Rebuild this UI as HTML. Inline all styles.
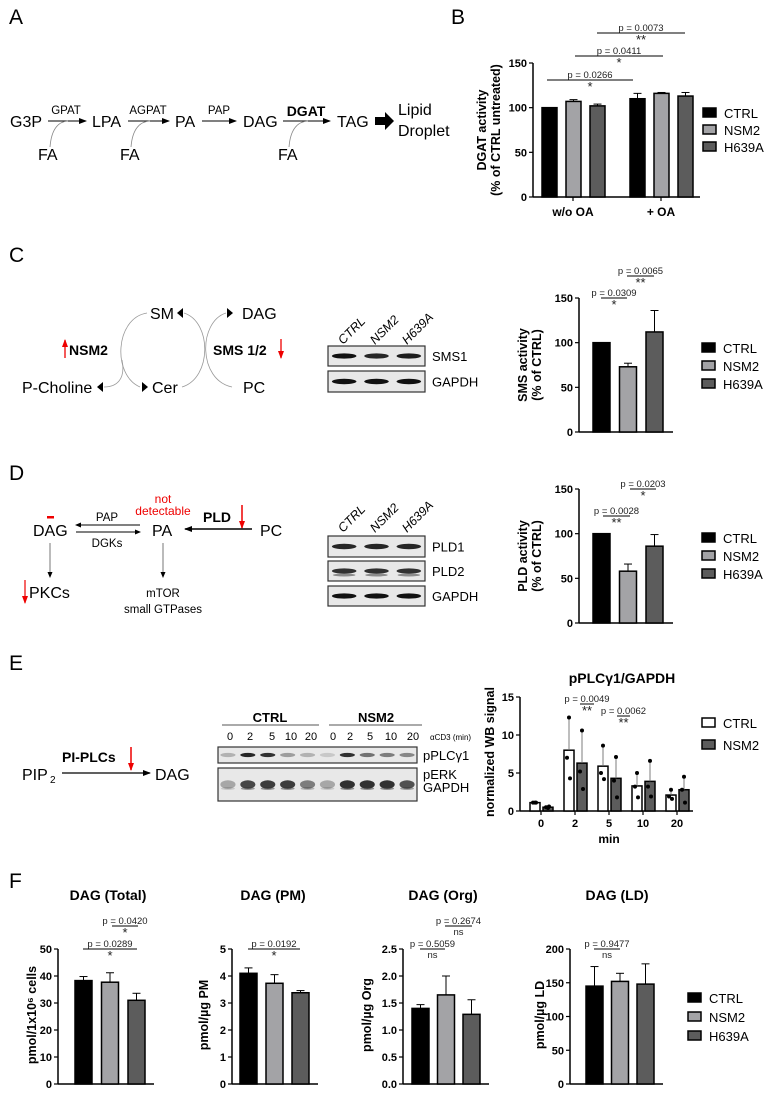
<!DOCTYPE html>
<html><head><meta charset="utf-8">
<style>
html,body{margin:0;padding:0;background:#fff;}
svg{display:block;font-family:"Liberation Sans",sans-serif;}
.tk{font-size:11px;font-weight:bold;text-anchor:end;}
.pv{font-size:9.5px;text-anchor:middle;fill:#222;}
.lg{font-size:13px;}
.ttl{font-size:12px;font-weight:bold;text-anchor:middle;}
.dg{font-size:16px;}
.sm{font-size:11.5px;}
.pl{font-size:21px;}
</style></head>
<body>
<svg id="fig" width="771" height="1096" viewBox="0 0 771 1096" xmlns="http://www.w3.org/2000/svg">
<defs>
<marker id="ah" markerWidth="8" markerHeight="8" refX="7" refY="4" orient="auto" markerUnits="userSpaceOnUse"><path d="M0,1 L8,4 L0,7 Z" fill="#000"/></marker>
<marker id="ahs" markerWidth="6" markerHeight="6" refX="5" refY="3" orient="auto" markerUnits="userSpaceOnUse"><path d="M0,0.5 L6,3 L0,5.5 Z" fill="#000"/></marker>
<marker id="ahr" markerWidth="8" markerHeight="8" refX="7" refY="4" orient="auto" markerUnits="userSpaceOnUse"><path d="M0,1 L8,4 L0,7 Z" fill="#e00"/></marker>
</defs>

<!-- Panel labels -->
<text class="pl" x="9" y="24">A</text>
<text class="pl" x="451" y="24">B</text>
<text class="pl" x="9" y="262">C</text>
<text class="pl" x="9" y="480">D</text>
<text class="pl" x="9" y="670">E</text>
<text class="pl" x="9" y="888">F</text>

<!-- Panel A pathway -->
<g>
<text class="dg" x="10" y="127">G3P</text>
<line x1="48" y1="121" x2="86" y2="121" stroke="#000" stroke-width="1" marker-end="url(#ah)"/>
<text class="sm" x="66" y="114" text-anchor="middle">GPAT</text>
<path d="M50 147 Q52 122 68 121" fill="none" stroke="#888" stroke-width="0.8"/>
<text class="dg" x="38" y="160">FA</text>
<text class="dg" x="92" y="127">LPA</text>
<line x1="128" y1="121" x2="169" y2="121" stroke="#000" stroke-width="1" marker-end="url(#ah)"/>
<text class="sm" x="148" y="114" text-anchor="middle">AGPAT</text>
<path d="M131 147 Q133 122 150 121" fill="none" stroke="#888" stroke-width="0.8"/>
<text class="dg" x="120" y="160">FA</text>
<text class="dg" x="175" y="127">PA</text>
<line x1="202" y1="121" x2="236" y2="121" stroke="#000" stroke-width="1" marker-end="url(#ah)"/>
<text class="sm" x="219" y="114" text-anchor="middle">PAP</text>
<text class="dg" x="243" y="127">DAG</text>
<line x1="283" y1="121" x2="330" y2="121" stroke="#000" stroke-width="1" marker-end="url(#ah)"/>
<text x="306" y="116" text-anchor="middle" style="font-size:14px;font-weight:bold">DGAT</text>
<path d="M289 147 Q291 122 308 121" fill="none" stroke="#888" stroke-width="0.8"/>
<text class="dg" x="278" y="160">FA</text>
<text class="dg" x="337" y="127">TAG</text>
<path d="M375 117 L385 117 L385 112 L394 121 L385 130 L385 125 L375 125 Z" fill="#000"/>
<text class="dg" x="398" y="115">Lipid</text>
<text class="dg" x="398" y="136">Droplet</text>
</g>

<!-- Panel C diagram -->
<g>
<text class="dg" x="150" y="319">SM</text>
<path d="M183 308 L177 313 L183 318 Z" fill="#000"/>
<text class="dg" x="242" y="319">DAG</text>
<path d="M227 308 L233 313 L227 318 Z" fill="#000"/>
<text class="dg" x="22" y="393">P-Choline</text>
<path d="M103 382 L97 387 L103 392 Z" fill="#000"/>
<path d="M142 382 L148 387 L142 392 Z" fill="#000"/>
<text class="dg" x="152" y="393">Cer</text>
<text class="dg" x="243" y="393">PC</text>
<path d="M147 313 C115 318,112 375,140 387" fill="none" stroke="#999" stroke-width="0.8"/>
<path d="M122 360 C126 380,116 387,104 387" fill="none" stroke="#999" stroke-width="0.8"/>
<path d="M182 387 C212 378,212 322,184 313" fill="none" stroke="#999" stroke-width="0.8"/>
<path d="M232 387 C198 380,198 322,226 313" fill="none" stroke="#999" stroke-width="0.8"/>
<line x1="65" y1="358" x2="65" y2="340" stroke="#e00" stroke-width="1.3" marker-end="url(#ahr)"/>
<text x="69" y="355" style="font-size:14px;font-weight:bold">NSM2</text>
<text x="213" y="355" style="font-size:14px;font-weight:bold">SMS 1/2</text>
<line x1="281" y1="339" x2="281" y2="358" stroke="#e00" stroke-width="1.3" marker-end="url(#ahr)"/>
</g>

<!-- Panel D diagram -->
<g>
<text class="dg" x="33" y="536">DAG</text>
<rect x="47" y="516" width="7" height="2.5" fill="#e00"/>
<line x1="140" y1="525" x2="76" y2="525" stroke="#000" stroke-width="1" marker-end="url(#ahs)"/>
<line x1="76" y1="532" x2="140" y2="532" stroke="#000" stroke-width="1" marker-end="url(#ahs)"/>
<text class="sm" x="107" y="521" text-anchor="middle">PAP</text>
<text class="sm" x="107" y="547" text-anchor="middle">DGKs</text>
<text class="dg" x="152" y="536">PA</text>
<text x="163" y="503" text-anchor="middle" fill="#e00" style="font-size:12px">not</text>
<text x="163" y="515" text-anchor="middle" fill="#e00" style="font-size:12px">detectable</text>
<text x="203" y="522" style="font-size:14px;font-weight:bold">PLD</text>
<line x1="242" y1="505" x2="242" y2="528" stroke="#e00" stroke-width="1.5" marker-end="url(#ahr)"/>
<line x1="252" y1="529" x2="185" y2="529" stroke="#000" stroke-width="1.6" marker-end="url(#ah)"/>
<text class="dg" x="260" y="536">PC</text>
<line x1="50" y1="543" x2="50" y2="577" stroke="#555" stroke-width="0.8" marker-end="url(#ahs)"/>
<line x1="163" y1="543" x2="163" y2="577" stroke="#555" stroke-width="0.8" marker-end="url(#ahs)"/>
<line x1="25" y1="580" x2="25" y2="603" stroke="#e00" stroke-width="1.2" marker-end="url(#ahr)"/>
<text class="dg" x="29" y="598">PKCs</text>
<text class="sm" x="163" y="597" text-anchor="middle">mTOR</text>
<text class="sm" x="163" y="613" text-anchor="middle">small GTPases</text>
</g>

<!-- Panel E diagram -->
<g>
<text class="dg" x="22" y="780">PIP</text><text x="50" y="783" style="font-size:10px">2</text>
<line x1="62" y1="773" x2="150" y2="773" stroke="#000" stroke-width="1.2" marker-end="url(#ah)"/>
<text x="62" y="762" style="font-size:14px;font-weight:bold">PI-PLCs</text>
<line x1="131" y1="747" x2="131" y2="770" stroke="#e00" stroke-width="1.5" marker-end="url(#ahr)"/>
<text class="dg" x="155" y="780">DAG</text>
</g>

<!-- Blots -->
<g id="blots"></g>
<g id="charts"></g>
</svg>

<script>
// ---------- DATA ----------
const groupLabels = ["CTRL","NSM2","H639A"];
const bCategories = ["w/o OA","+ OA"];
const bCtrl = [100,110];
const bNsm2 = [107,116];
const bH639a = [102,113];
const bCtrlErr = [0,6];
const bNsm2Err = [2,1];
const bH639aErr = [2,4];
const bTicks = [0,50,100,150];

const cValues = [100,73,112];
const cErrs = [0,4,24];
const cTicks = [0,50,100,150];

const dValues = [100,58,86];
const dErrs = [0,8,13];
const dTicks = [0,50,100,150];

const eTimes = ["0","2","5","10","20"];
const eCtrl = [1.1,8,5.9,3.3,2.1];
const eNsm2 = [0.5,6.3,4.3,3.9,2.8];
const eCtrlSd = [0.1,4.2,2.5,1.7,0.6];
const eNsm2Sd = [0.2,4.4,2.7,2.6,1.7];
const eCtrlDots = [[1.1,1.1,1.1],[12.3,7,4.3],[8.6,5,4.2],[5,3.2,1.8],[2.8,1.9,1.6]];
const eNsm2Dots = [[0.4,0.5,0.6],[10.6,5.2,2.9],[7.1,4,1.8],[6.6,3.2,1.9],[4.5,2.8,1.1]];
const eTicks = [0,5,10,15];

const fTitles = ["DAG (Total)","DAG (PM)","DAG (Org)","DAG (LD)"];
const fTotal = [38.3,37.7,31];
const fTotalErr = [1.5,3.5,2.6];
const fPM = [4.1,3.73,3.38];
const fPMErr = [0.2,0.32,0.08];
const fOrg = [1.4,1.65,1.29];
const fOrgErr = [0.07,0.35,0.27];
const fLD = [145,152,148];
const fLDErr = [29,12,30];
const fTotalTicks = [0,10,20,30,40,50];
const fPMTicks = [0,1,2,3,4,5];
const fOrgTicks = [0,0.5,1,1.5,2,2.5];
const fOrgTickLabels = ["0.0","0.5","1.0","1.5","2.0","2.5"];
const fLDTicks = [0,50,100,150,200];

// ---------- HELPERS ----------
const NS="http://www.w3.org/2000/svg";
const charts=document.getElementById('charts');
const blots=document.getElementById('blots');
const fills=["#000","#a3a3a6","#5c5c5c"];
function mk(tag,attrs,parent,txt){const e=document.createElementNS(NS,tag);for(const k in attrs)e.setAttribute(k,attrs[k]);if(txt!==undefined)e.textContent=txt;(parent||charts).appendChild(e);return e;}
function lin(v,vmax,y0,yTop){return y0-v/vmax*(y0-yTop);}

function axes(g,ax,axEnd,y0,yTop,vmax,ticks,labels){
  const yl=mk('line',{x1:ax,y1:yTop,x2:ax,y2:y0,stroke:'#000','stroke-width':1.5},g);
  
  
  const xl=mk('line',{x1:ax,y1:y0,x2:axEnd,y2:y0,stroke:'#000','stroke-width':1.5},g);
  
  
  ticks.forEach((t,i)=>{const y=lin(t,vmax,y0,yTop);
    mk('line',{x1:ax-4,y1:y,x2:ax,y2:y,stroke:'#000','stroke-width':1.2},g);
    const tl=mk('text',{class:'tk',x:ax-6,y:y+4},g,labels?labels[i]:String(t));
    
    
  });
}
function bar(g,x,w,v,err,vmax,y0,yTop,fill,name){
  const y=lin(v,vmax,y0,yTop);
  if(err>0){const ye=lin(v+err,vmax,y0,yTop);
    mk('line',{x1:x+w/2,y1:y,x2:x+w/2,y2:ye,stroke:'#000','stroke-width':1},g);
    mk('line',{x1:x+w/2-4,y1:ye,x2:x+w/2+4,y2:ye,stroke:'#000','stroke-width':1},g);}
  const r=mk('rect',{x:x,y:y,width:w,height:y0-y,fill:fill,stroke:'#000','stroke-width':1.5},g);
  
  
}
function yTitle(g,x,y,lines){lines.forEach((l,i)=>{mk('text',{x:x+i*14,y:y,transform:`rotate(-90 ${x+i*14} ${y})`,'text-anchor':'middle',style:'font-size:12.5px;font-weight:bold'},g,l);});}
function legend(g,x,y,step,labels,fl){labels.forEach((l,i)=>{
  const it=mk('g',{},g);
  
  
  mk('rect',{x:x,y:y+i*step-5,width:13,height:9,fill:fl[i],stroke:'#000','stroke-width':1.5},it);
  mk('text',{class:'lg',x:x+21,y:y+i*step+5},it,l);});}
function sig(g,x1,x2,y,ptxt,star){
  const s=mk('g',{},g);
  
  
  mk('text',{class:'pv',x:(x1+x2)/2,y:y-2},s,ptxt);
  mk('line',{x1:x1,y1:y,x2:x2,y2:y,stroke:'#000','stroke-width':1},s);
  mk('text',{class:'pv',x:(x1+x2)/2,y:y+(star==='ns'?9:11),style:star==='ns'?'font-size:9.5px':'font-size:13px'},s,star);
}

// ---------- PANEL B ----------
(function(){
  const g=mk('g',{});
  
  
  const ax=533,y0=197,yT=63,vm=150;
  axes(g,ax,700,y0,yT,vm,bTicks);
  const series=[bCtrl,bNsm2,bH639a],errs=[bCtrlErr,bNsm2Err,bH639aErr];
  bCategories.forEach((c,ci)=>{
    const gx=ax+9+ci*88;
    series.forEach((s,si)=>bar(g,gx+si*24,15,s[ci],errs[si][ci],vm,y0,yT,fills[si],'bar-'+groupLabels[si].toLowerCase()+'-'+ci));
    mk('line',{x1:gx+31,y1:y0,x2:gx+31,y2:y0+4,stroke:'#000','stroke-width':1.2},g);
    const t=mk('text',{x:gx+31,y:216,'text-anchor':'middle',style:'font-size:12px;font-weight:bold'},g,c);
    
    
  });
  yTitle(g,486,130,["DGAT activity","(% of CTRL untreated)"]);
  legend(g,703,113,17,groupLabels,fills);
  sig(g,547,633,80,"p = 0.0266","*");
  sig(g,575,663,56,"p = 0.0411","*");
  sig(g,597,685,33,"p = 0.0073","**");
})();

// ---------- PANEL C / D ----------
function simple(name,vals,errs,ticks,y0,yT,title,legY){
  const g=mk('g',{});
  
  
  const ax=579,vm=150;
  axes(g,ax,673,y0,yT,vm,ticks);
  vals.forEach((v,i)=>bar(g,ax+14+i*26.5,17,v,errs[i],vm,y0,yT,fills[i],'bar-'+groupLabels[i].toLowerCase()));
  yTitle(g,527,(y0+yT)/2,title);
  legend(g,702,legY,18,groupLabels,fills);
  return g;
}
const gc=simple('sms-activity-chart',cValues,cErrs,cTicks,432,298,["SMS activity","(% of CTRL)"],348);
sig(gc,601,627,298,"p = 0.0309","*");
sig(gc,627,654,276,"p = 0.0065","**");
const gd=simple('pld-activity-chart',dValues,dErrs,dTicks,623,489,["PLD activity","(% of CTRL)"],538);
sig(gd,603,630,516,"p = 0.0028","**");
sig(gd,630,656,489,"p = 0.0203","*");

// ---------- PANEL E chart ----------
(function(){
  const g=mk('g',{});
  
  
  const ax=520,y0=811,yT=697,vm=15;
  axes(g,ax,693,y0,yT,vm,eTicks);
  eTimes.forEach((t,i)=>{
    const c=ax+21+i*34;
    [[eCtrl,eCtrlSd,eCtrlDots,'#fff',c-11,'ctrl'],[eNsm2,eNsm2Sd,eNsm2Dots,'#5c5c5c',c+2,'nsm2']].forEach(s=>{
      const v=s[0][i],sd=s[1][i],x=s[4];
      const y=lin(v,vm,y0,yT);
      mk('line',{x1:x+5,y1:lin(v+sd,vm,y0,yT),x2:x+5,y2:lin(Math.max(v-sd,0),vm,y0,yT),stroke:'#777','stroke-width':0.8},g);
      const r=mk('rect',{x:x,y:y,width:10,height:y0-y,fill:s[3],stroke:'#000','stroke-width':1.5},g);
      
      
      mk('line',{x1:x+5,y1:lin(v+sd,vm,y0,yT),x2:x+5,y2:y,stroke:'#777','stroke-width':0.8},g);
      s[2][i].forEach((d,k)=>{
        const p=mk('circle',{cx:x+5+(k===1?-2:(k===2?1:0)),cy:lin(d,vm,y0,yT),r:2,fill:'#000'},g);
        
        
      });
    });
    mk('line',{x1:c,y1:y0,x2:c,y2:y0+4,stroke:'#000','stroke-width':1.2},g);
    const tl=mk('text',{x:c,y:827,'text-anchor':'middle',style:'font-size:11px;font-weight:bold'},g,t);
    
    
  });
  mk('text',{x:609,y:843,'text-anchor':'middle',style:'font-size:12px;font-weight:bold'},g,'min');
  mk('text',{x:622,y:683,'text-anchor':'middle',style:'font-size:14px;font-weight:bold'},g,'pPLCγ1/GAPDH');
  yTitle(g,494,752,["normalized WB signal"]);
  legend(g,702,723,22,["CTRL","NSM2"],["#fff","#5c5c5c"]);
  sig(g,580,594,704,"p = 0.0049","**");
  sig(g,617,630,716,"p = 0.0062","**");
})();

// ---------- PANEL F ----------
function fchart(name,title,tx,ax,pad,step,vals,errs,ticks,tl,vm,ytl,yx){
  const g=mk('g',{});
  
  
  const y0=1084,yT=949;
  axes(g,ax,ax+pad+2*step+17+9,y0,yT,vm,ticks,tl);
  vals.forEach((v,i)=>bar(g,ax+pad+i*step,17,v,errs[i],vm,y0,yT,fills[i],'bar-'+groupLabels[i].toLowerCase()));
  const t=mk('text',{x:tx,y:900,'text-anchor':'middle',style:'font-size:14px;font-weight:bold'},g,title);
  
  
  yTitle(g,yx,1015,[ytl]);
  return g;
}
const f1=fchart('dag-total-chart',fTitles[0],108,58,17,26.5,fTotal,fTotalErr,fTotalTicks,null,50,"pmol/1x10⁶ cells",36);
sig(f1,83,137,949,"p = 0.0289","*");
sig(f1,112,138,926,"p = 0.0420","*");
const f2=fchart('dag-pm-chart',fTitles[1],273,232,8,26,fPM,fPMErr,fPMTicks,null,5,"pmol/µg PM",208);
sig(f2,248,300,949,"p = 0.0192","*");
const f3=fchart('dag-org-chart',fTitles[2],443,403,9,25.5,fOrg,fOrgErr,fOrgTicks,fOrgTickLabels,2.5,"pmol/µg Org",371);
sig(f3,420,445,949,"p = 0.5059","ns");
sig(f3,445,472,926,"p = 0.2674","ns");
const f4=fchart('dag-ld-chart',fTitles[3],617,570,16,25.5,fLD,fLDErr,fLDTicks,null,200,"pmol/µg LD",544);
sig(f4,594,620,949,"p = 0.9477","ns");
legend(charts,688,998,19,groupLabels,fills);

// ---------- BLOTS ----------
function blotBox(name,x,y,w,h,lanes,intens,label,lx,double){
  const g=mk('g',{},blots);
  
  
  mk('rect',{x:x,y:y,width:w,height:h,fill:'#e8e8e8',stroke:'#333','stroke-width':1.2},g);
  const lw=w/lanes;
  intens.forEach((a,i)=>{const cx=x+lw*(i+0.5);
    mk('ellipse',{cx:cx,cy:y+h/2,rx:lw*0.38,ry:Math.max(1.5,h*0.13),fill:'#111','fill-opacity':a},g);
    if(double)mk('ellipse',{cx:cx,cy:y+h/2+4,rx:lw*0.35,ry:1.5,fill:'#333','fill-opacity':a*0.6},g);
  });
  mk('text',{x:lx,y:y+h/2+5,style:'font-size:13px'},g,label);
}
function laneLabels(xs,y){groupLabels.forEach((l,i)=>{mk('text',{x:xs[i],y:y,transform:`rotate(-45 ${xs[i]} ${y})`,style:'font-size:12.5px;font-style:italic'},blots,l);});}
laneLabels([343,375,407],345);
blotBox('sms1-blot',328,346,97,20,3,[1,0.9,0.95],'SMS1',432);
blotBox('gapdh-blot-c',328,371,97,21,3,[1,1,1],'GAPDH',432);
laneLabels([343,375,407],533);
blotBox('pld1-blot',328,536,97,21,3,[0.9,0.9,0.9],'PLD1',432);
blotBox('pld2-blot',328,561,97,20,3,[0.85,0.85,0.85],'PLD2',432,true);
blotBox('gapdh-blot-d',328,586,97,20,3,[1,1,1],'GAPDH',432);
// E blot
mk('text',{x:270,y:722,'text-anchor':'middle',style:'font-size:13px;font-weight:bold'},blots,'CTRL');
mk('text',{x:376,y:722,'text-anchor':'middle',style:'font-size:13px;font-weight:bold'},blots,'NSM2');
mk('line',{x1:222,y1:725,x2:319,y2:725,stroke:'#555','stroke-width':1},blots);
mk('line',{x1:329,y1:725,x2:422,y2:725,stroke:'#555','stroke-width':1},blots);
const laneX=[230,250,272,291,311,333,350,370,391,413];
const laneT=["0","2","5","10","20","0","2","5","10","20"];
laneT.forEach((t,i)=>mk('text',{x:laneX[i],y:740,'text-anchor':'middle',style:'font-size:11px'},blots,t));
mk('text',{x:430,y:740,style:'font-size:8px'},blots,'αCD3 (min)');
blotBox('pplcg1-blot',218,747,199,16,10,[0.25,0.9,0.85,0.35,0.25,0.15,0.85,0.55,0.5,0.45],'pPLCγ1',423);
blotBox('perk-gapdh-blot',218,768,199,33,10,[0.3,0.75,0.8,0.8,0.5,0.3,0.85,0.85,0.85,0.7],'',423,true);
mk('text',{x:423,y:779,style:'font-size:13px'},blots,'pERK');
mk('text',{x:423,y:792,style:'font-size:13px'},blots,'GAPDH');
</script>
</body></html>
